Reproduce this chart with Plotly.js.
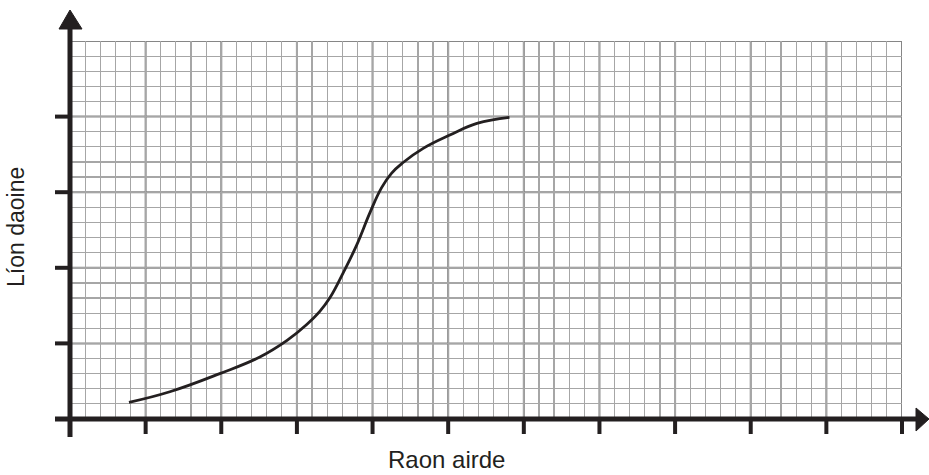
<!DOCTYPE html>
<html>
<head>
<meta charset="utf-8">
<script src="https://cdn.plot.ly/plotly-3.0.1.min.js"></script>
<style>html,body{margin:0;padding:0;background:#fff;}#chart{width:929px;height:475px;}</style>
</head>
<body>
<div id="chart"></div>
<script>
// Curve values (in major grid units)
var curveX = [0.78, 1.32, 1.98, 2.51, 2.87, 3.13, 3.30, 3.44, 3.62, 3.79, 3.97, 4.12, 4.25, 4.40, 4.67, 5.03, 5.38, 5.81];
var curveY = [0.22, 0.36, 0.60, 0.82, 1.04, 1.25, 1.42, 1.61, 1.95, 2.30, 2.74, 3.06, 3.25, 3.39, 3.58, 3.76, 3.91, 3.99];
var xRange = [0, 11];
var yRange = [0, 5];
var xMajor = [0, 1, 2, 3, 4, 5, 6, 7, 8, 9, 10, 11];
var yMajor = [0, 1, 2, 3, 4, 5];
var xTickVals = [1, 2, 3, 4, 5, 6, 7, 8, 9, 10, 11];
var yTickVals = [1, 2, 3, 4];
var xTitle = "Raon airde";
var yTitle = "Líon daoine";

var INK = '#231f20';
var MAJOR = '#868686';
var MINOR = '#a6a6a6';
var W = 832, H = 378; // plot area px
var shapes = [];
// major grid lines
xMajor.forEach(function(v){
  shapes.push({type:'line', xref:'x', yref:'paper', x0:v, x1:v, y0:0, y1:1, line:{color:MAJOR, width:2}, layer:'between'});
});
yMajor.forEach(function(v){
  shapes.push({type:'line', xref:'paper', yref:'y', x0:0, x1:1, y0:v, y1:v, line:{color:MAJOR, width:2}, layer:'between'});
});
// axis lines
shapes.push({type:'line', xref:'paper', yref:'paper', x0:0, x1:0, y0:-18/H, y1:390/H, line:{color:INK, width:5}});
shapes.push({type:'line', xref:'paper', yref:'paper', x0:-15/W, x1:847/W, y0:0, y1:0, line:{color:INK, width:5}});
// arrows
shapes.push({type:'path', xref:'paper', yref:'paper', path:'M ' + (-11/W) + ' ' + (390/H) + ' L ' + (12/W) + ' ' + (390/H) + ' L 0 ' + (409/H) + ' Z', fillcolor:INK, line:{color:INK, width:1}});
shapes.push({type:'path', xref:'paper', yref:'paper', path:'M ' + (846/W) + ' ' + (11/H) + ' L ' + (846/W) + ' ' + (-12/H) + ' L ' + (859/W) + ' 0 Z', fillcolor:INK, line:{color:INK, width:1}});
// ticks
xTickVals.forEach(function(v){
  var p = (v - xRange[0]) / (xRange[1] - xRange[0]);
  shapes.push({type:'line', xref:'paper', yref:'paper', x0:p, x1:p, y0:0, y1:-15/H, line:{color:INK, width:4}});
});
yTickVals.forEach(function(v){
  var p = (v - yRange[0]) / (yRange[1] - yRange[0]);
  shapes.push({type:'line', xref:'paper', yref:'paper', x0:-15/W, x1:0, y0:p, y1:p, line:{color:INK, width:4}});
});

var trace = {
  x: curveX, y: curveY, type:'scatter', mode:'lines',
  line:{color:INK, width:2.8, shape:'spline', smoothing:1.2},
  hoverinfo:'skip'
};

var axisCommon = {
  showgrid:true, gridcolor:MINOR, gridwidth:1.2,
  tickmode:'linear', tick0:0, dtick:0.2,
  ticks:'', showticklabels:false, zeroline:false, showline:false, fixedrange:true
};

var layout = {
  width:929, height:475,
  margin:{l:70, r:27, t:41, b:56, pad:0},
  paper_bgcolor:'#fff', plot_bgcolor:'#fff',
  showlegend:false,
  xaxis:Object.assign({}, axisCommon, {range:xRange}),
  yaxis:Object.assign({}, axisCommon, {range:yRange}),
  shapes:shapes,
  annotations:[
    {text:xTitle, xref:'paper', yref:'paper', x:376/W, y:-41/H, showarrow:false, xanchor:'center', yanchor:'middle', borderpad:0,
     font:{family:'Liberation Sans, Arial, sans-serif', size:24, color:INK}},
    {text:yTitle, xref:'paper', yref:'paper', x:-54/W, y:192/H, showarrow:false, xanchor:'center', yanchor:'middle', textangle:-90,
     font:{family:'Liberation Sans, Arial, sans-serif', size:23, color:INK}}
  ]
};

Plotly.newPlot('chart', [trace], layout, {staticPlot:true, displayModeBar:false});
</script>
</body>
</html>
